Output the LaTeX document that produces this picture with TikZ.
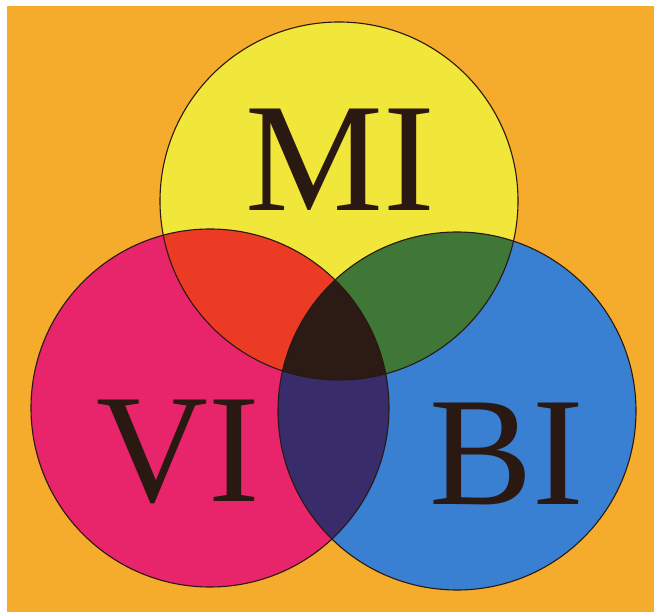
\documentclass[tikz,border=0pt]{standalone}
\usepackage{fontspec}
\setmainfont{Liberation Serif}
\usepackage{xcolor}
\usepackage{tikz}
\definecolor{backdrop}{HTML}{F5AC2C}
\definecolor{yel}{HTML}{F1E63A}
\definecolor{mag}{HTML}{E8256A}
\definecolor{blu}{HTML}{3A80D2}
\definecolor{redmix}{HTML}{EC3B24}
\definecolor{grnmix}{HTML}{3F7836}
\definecolor{purmix}{HTML}{392C6B}
\definecolor{core}{HTML}{2C1B14}
\definecolor{ink}{HTML}{2A1812}

% circle paths (picture coordinates, y pointing down)
\def\topc{(339,201) circle[radius=179pt]}
\def\leftc{(210,408) circle[radius=179pt]}
\def\rightc{(457,411) circle[radius=179pt]}

\begin{document}
\begin{tikzpicture}[
  x=1pt,y=-1pt,
  rim/.style={draw=ink,line width=1.1pt},
  lbl/.style={text=ink,anchor=base,inner sep=0pt,
              font=\fontsize{155}{155}\selectfont}
]

% --- backdrop
\fill[white] (0,0) rectangle (654,612);
\fill[backdrop] (7,6) rectangle (654,612);
\useasboundingbox (0,0) rectangle (654,612);

% --- single circles
\fill[yel] \topc;
\fill[mag] \leftc;
\fill[blu] \rightc;

% --- pairwise overlaps
\begin{scope}
  \clip \topc;
  \fill[redmix] \leftc;
  \fill[grnmix] \rightc;
\end{scope}
\begin{scope}
  \clip \leftc;
  \fill[purmix] \rightc;
\end{scope}

% --- all three
\begin{scope}
  \clip \topc;
  \clip \leftc;
  \fill[core] \rightc;
\end{scope}

% --- outlines
\draw[rim] \topc;
\draw[rim] \leftc;
\draw[rim] \rightc;

% --- labels
\node[lbl] (mi) at (340,211) {MI};
\node[lbl] (vi) at (178,501) {VI};
\node[lbl] (bi) at (507,504) {BI};
\end{tikzpicture}
\end{document}
